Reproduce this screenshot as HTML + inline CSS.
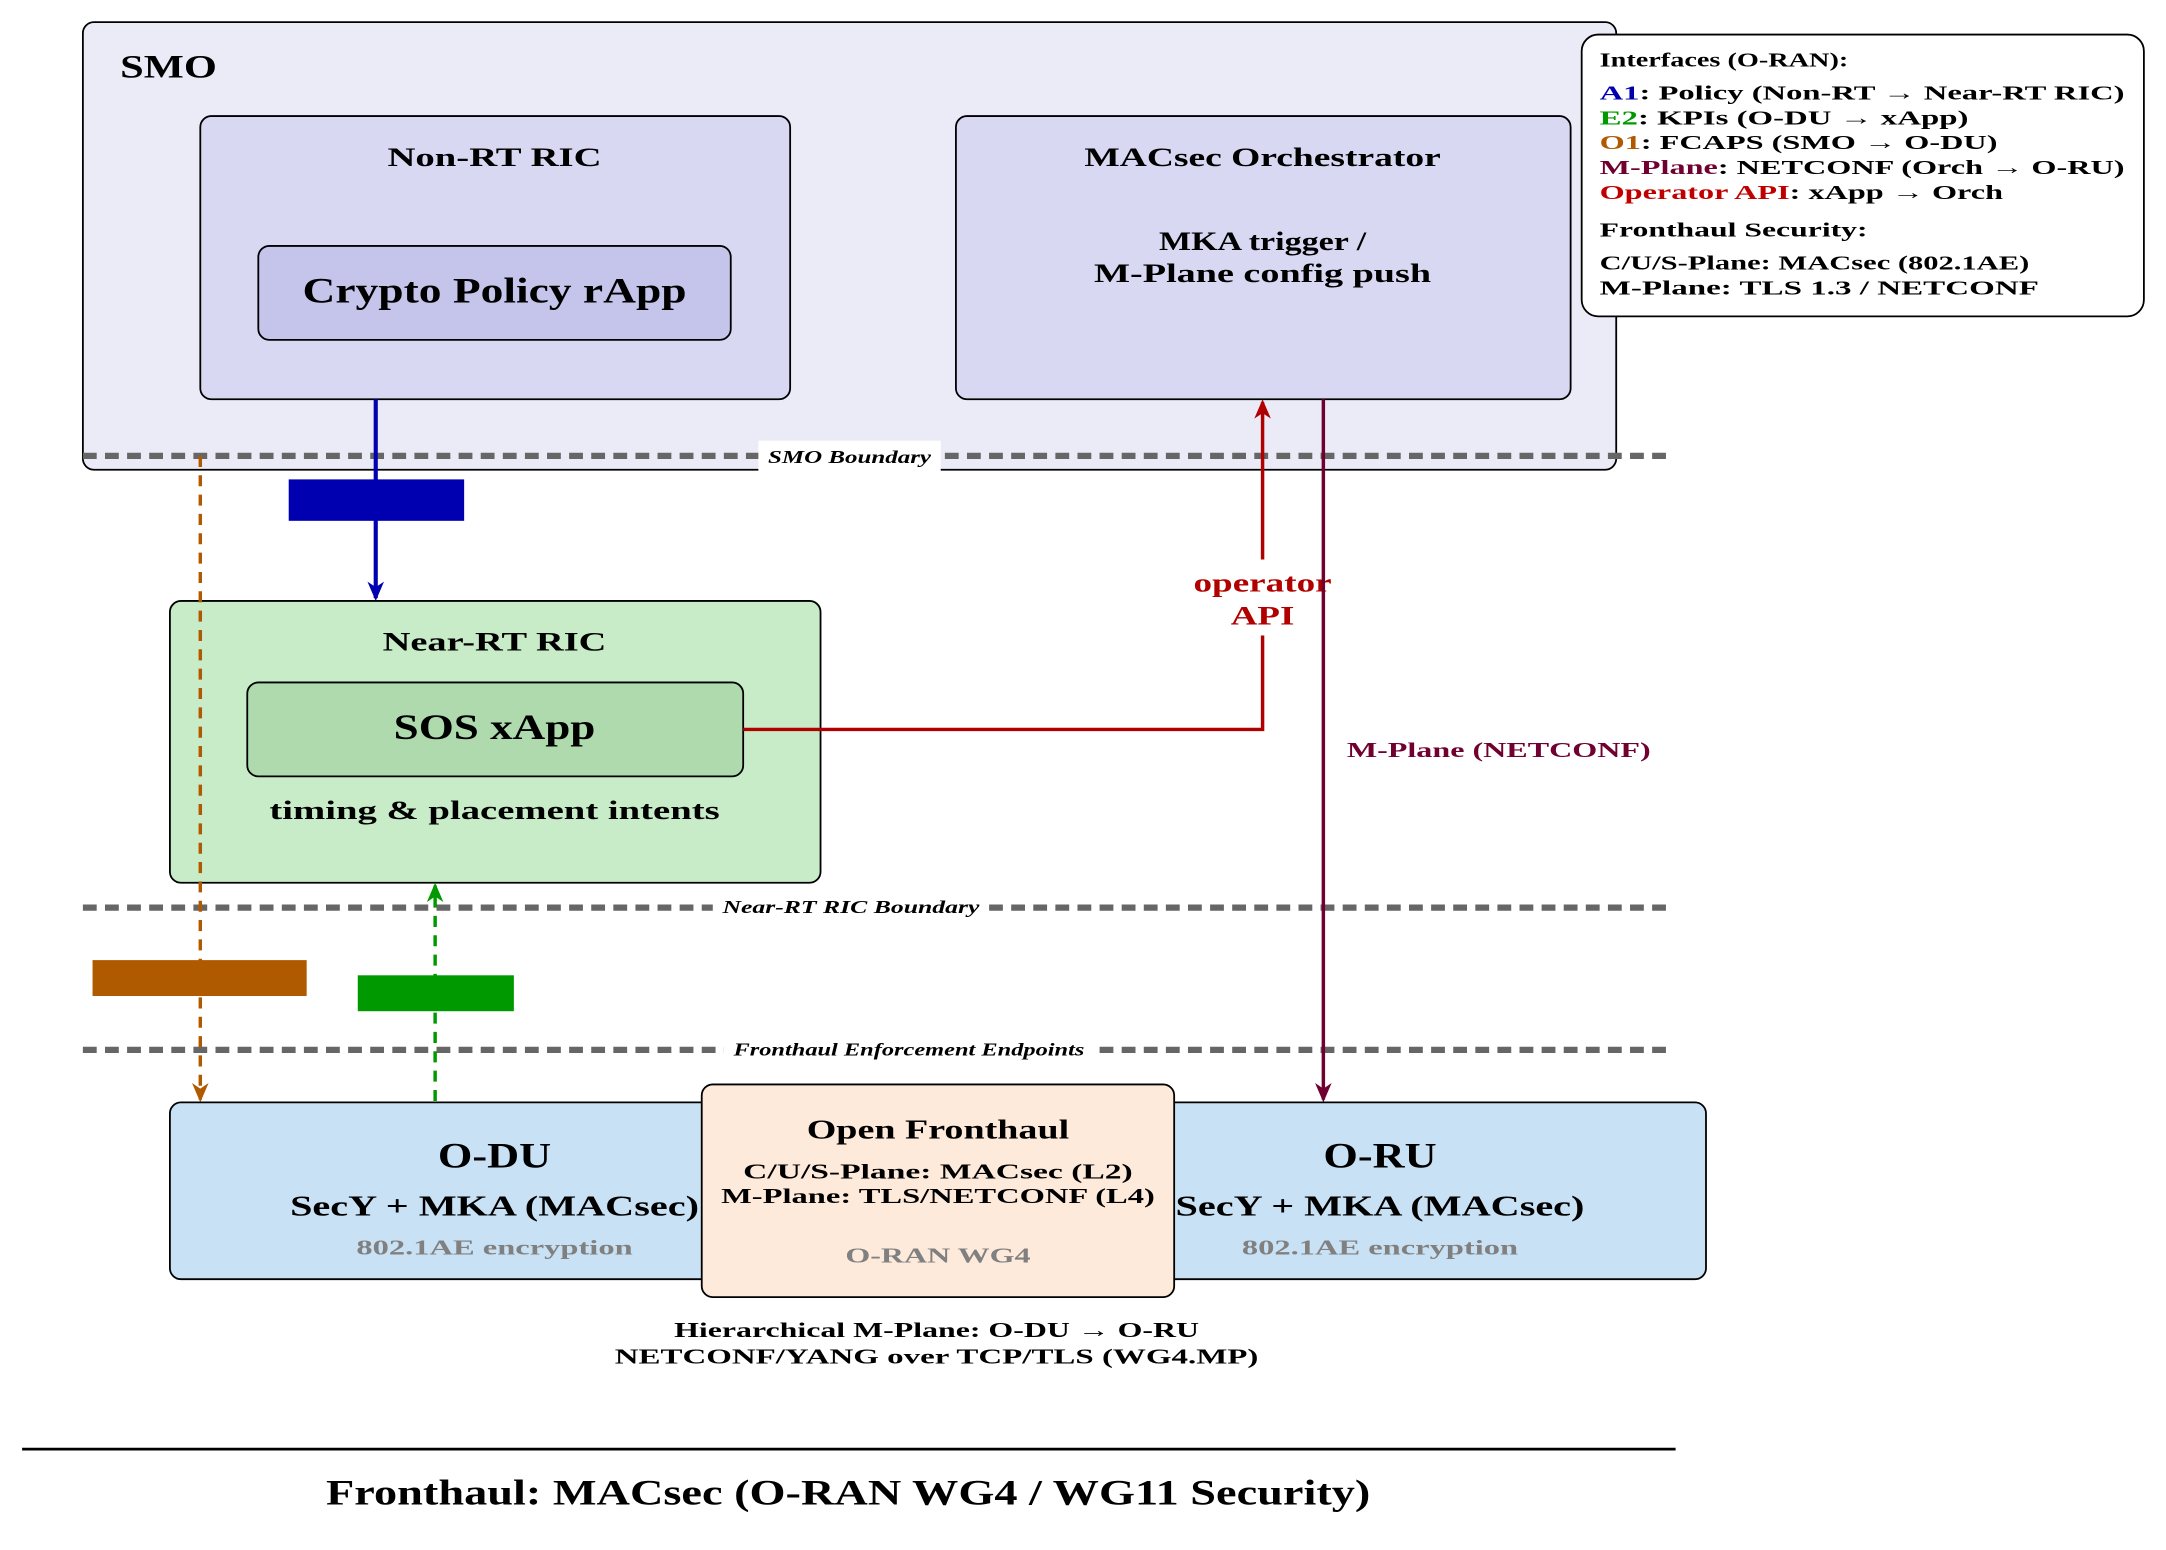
<!DOCTYPE html>
<html><head><meta charset="utf-8"><style>
html,body{margin:0;padding:0;background:#fff;}
svg{display:block;}
text{font-family:"Liberation Serif",serif;font-weight:bold;}
</style></head><body>
<svg width="2166" height="1550" viewBox="0 0 1568 1122" xmlns="http://www.w3.org/2000/svg">
<defs>
<marker id="ab" markerWidth="14" markerHeight="14" refX="12" refY="7" orient="auto" markerUnits="userSpaceOnUse" viewBox="0 0 14 14"><path d="M0,1 L14,7 L0,13 L4,7 Z" fill="#0000b0"/></marker>
<marker id="ar" markerWidth="14" markerHeight="14" refX="12" refY="7" orient="auto" markerUnits="userSpaceOnUse" viewBox="0 0 14 14"><path d="M0,1 L14,7 L0,13 L4,7 Z" fill="#b00000"/></marker>
<marker id="ap" markerWidth="14" markerHeight="14" refX="12" refY="7" orient="auto" markerUnits="userSpaceOnUse" viewBox="0 0 14 14"><path d="M0,1 L14,7 L0,13 L4,7 Z" fill="#700030"/></marker>
<marker id="ao" markerWidth="14" markerHeight="14" refX="12" refY="7" orient="auto" markerUnits="userSpaceOnUse" viewBox="0 0 14 14"><path d="M0,1 L14,7 L0,13 L4,7 Z" fill="#b05a00"/></marker>
<marker id="ag" markerWidth="14" markerHeight="14" refX="12" refY="7" orient="auto" markerUnits="userSpaceOnUse" viewBox="0 0 14 14"><path d="M0,1 L14,7 L0,13 L4,7 Z" fill="#009900"/></marker>
</defs>

<rect x="60" y="16" width="1110" height="324" rx="8" fill="#ebebf8" stroke="#000" stroke-width="1.3"/>
<text x="87" y="56" font-size="24" textLength="70" lengthAdjust="spacingAndGlyphs">SMO</text>

<rect x="145" y="84" width="427" height="205" rx="8" fill="#d8d8f2" stroke="#000" stroke-width="1.3"/>
<text x="358" y="120" font-size="19" text-anchor="middle" textLength="155" lengthAdjust="spacingAndGlyphs">Non-RT RIC</text>
<rect x="187" y="178" width="342" height="68" rx="8" fill="#c5c5ec" stroke="#000" stroke-width="1.3"/>
<text x="358" y="219" font-size="26" text-anchor="middle" textLength="278" lengthAdjust="spacingAndGlyphs">Crypto Policy rApp</text>

<rect x="692" y="84" width="445" height="205" rx="8" fill="#d8d8f2" stroke="#000" stroke-width="1.3"/>
<text x="914" y="120" font-size="19" text-anchor="middle" textLength="258" lengthAdjust="spacingAndGlyphs">MACsec Orchestrator</text>
<text x="914" y="181" font-size="19" text-anchor="middle" textLength="150" lengthAdjust="spacingAndGlyphs">MKA trigger /</text>
<text x="914" y="204" font-size="19" text-anchor="middle" textLength="244" lengthAdjust="spacingAndGlyphs">M-Plane config push</text>

<rect x="1145" y="25" width="407" height="204" rx="12" fill="#fff" stroke="#000" stroke-width="1.3"/>
<g font-size="14.5">
<text x="1158" y="48" textLength="180" lengthAdjust="spacingAndGlyphs">Interfaces (O-RAN):</text>
<text x="1158" y="72" textLength="380" lengthAdjust="spacingAndGlyphs"><tspan fill="#0000b0">A1</tspan>: Policy (Non-RT → Near-RT RIC)</text>
<text x="1158" y="90" textLength="267" lengthAdjust="spacingAndGlyphs"><tspan fill="#009900">E2</tspan>: KPIs (O-DU → xApp)</text>
<text x="1158" y="108" textLength="288" lengthAdjust="spacingAndGlyphs"><tspan fill="#b05a00">O1</tspan>: FCAPS (SMO → O-DU)</text>
<text x="1158" y="126" textLength="380" lengthAdjust="spacingAndGlyphs"><tspan fill="#700030">M-Plane</tspan>: NETCONF (Orch → O-RU)</text>
<text x="1158" y="144" textLength="292" lengthAdjust="spacingAndGlyphs"><tspan fill="#c00000">Operator API</tspan>: xApp → Orch</text>
<text x="1158" y="171" textLength="194" lengthAdjust="spacingAndGlyphs">Fronthaul Security:</text>
<text x="1158" y="195" textLength="311" lengthAdjust="spacingAndGlyphs">C/U/S-Plane: MACsec (802.1AE)</text>
<text x="1158" y="213" textLength="318" lengthAdjust="spacingAndGlyphs">M-Plane: TLS 1.3 / NETCONF</text>
</g>

<g stroke="#666" stroke-width="4.5" stroke-dasharray="10,6">
<line x1="60" y1="330" x2="1210" y2="330"/>
<line x1="60" y1="657" x2="1210" y2="657"/>
<line x1="60" y1="760" x2="1210" y2="760"/>
</g>
<rect x="549" y="319" width="132" height="22" fill="#fff"/>
<text x="615" y="335" font-size="13" font-style="italic" text-anchor="middle" textLength="118" lengthAdjust="spacingAndGlyphs">SMO Boundary</text>
<rect x="516" y="646" width="200" height="22" fill="#fff"/>
<text x="616" y="661" font-size="13" font-style="italic" text-anchor="middle" textLength="186" lengthAdjust="spacingAndGlyphs">Near-RT RIC Boundary</text>
<rect x="524" y="749" width="268" height="22" fill="#fff"/>
<text x="658" y="764" font-size="13" font-style="italic" text-anchor="middle" textLength="254" lengthAdjust="spacingAndGlyphs">Fronthaul Enforcement Endpoints</text>

<rect x="123" y="435" width="471" height="204" rx="8" fill="#c8ebc8" stroke="#000" stroke-width="1.3"/>
<text x="358" y="471" font-size="19" text-anchor="middle" textLength="162" lengthAdjust="spacingAndGlyphs">Near-RT RIC</text>
<rect x="179" y="494" width="359" height="68" rx="8" fill="#aedaae" stroke="#000" stroke-width="1.3"/>
<text x="358" y="535" font-size="26" text-anchor="middle" textLength="146" lengthAdjust="spacingAndGlyphs">SOS xApp</text>
<text x="358" y="593" font-size="19" text-anchor="middle" textLength="326" lengthAdjust="spacingAndGlyphs">timing &amp; placement intents</text>

<line x1="272" y1="289" x2="272" y2="433" stroke="#0000b0" stroke-width="3" marker-end="url(#ab)"/>
<rect x="209" y="347" width="127" height="30" fill="#0000b0"/>

<polyline points="538,528 914,528 914,291" fill="none" stroke="#b00000" stroke-width="2.5" marker-end="url(#ar)"/>
<rect x="868" y="405" width="92" height="55" fill="#fff"/>
<text x="914" y="428" font-size="19" fill="#b00000" text-anchor="middle" textLength="100" lengthAdjust="spacingAndGlyphs">operator</text>
<text x="914" y="452" font-size="19" fill="#b00000" text-anchor="middle" textLength="46" lengthAdjust="spacingAndGlyphs">API</text>

<line x1="958" y1="289" x2="958" y2="796" stroke="#700030" stroke-width="2.5" marker-end="url(#ap)"/>
<text x="975" y="548" font-size="15" fill="#700030" textLength="220" lengthAdjust="spacingAndGlyphs">M-Plane (NETCONF)</text>

<line x1="145" y1="330" x2="145" y2="796" stroke="#b05a00" stroke-width="2.5" stroke-dasharray="8,6" marker-end="url(#ao)"/>
<rect x="67" y="695" width="155" height="26" fill="#b05a00"/>

<line x1="315" y1="797" x2="315" y2="641" stroke="#009900" stroke-width="2.5" stroke-dasharray="8,6" marker-end="url(#ag)"/>
<rect x="259" y="706" width="113" height="26" fill="#009900"/>

<rect x="123" y="798" width="407" height="128" rx="8" fill="#c9e1f4" stroke="#000" stroke-width="1.3"/>
<text x="358" y="845" font-size="26" text-anchor="middle" textLength="82" lengthAdjust="spacingAndGlyphs">O-DU</text>
<text x="358" y="880" font-size="21" text-anchor="middle" textLength="296" lengthAdjust="spacingAndGlyphs">SecY + MKA (MACsec)</text>
<text x="358" y="908" font-size="15" fill="#808080" text-anchor="middle" textLength="200" lengthAdjust="spacingAndGlyphs">802.1AE encryption</text>

<rect x="830" y="798" width="405" height="128" rx="8" fill="#c9e1f4" stroke="#000" stroke-width="1.3"/>
<text x="999" y="845" font-size="26" text-anchor="middle" textLength="82" lengthAdjust="spacingAndGlyphs">O-RU</text>
<text x="999" y="880" font-size="21" text-anchor="middle" textLength="296" lengthAdjust="spacingAndGlyphs">SecY + MKA (MACsec)</text>
<text x="999" y="908" font-size="15" fill="#808080" text-anchor="middle" textLength="200" lengthAdjust="spacingAndGlyphs">802.1AE encryption</text>

<rect x="508" y="785" width="342" height="154" rx="8" fill="#fdeadb" stroke="#000" stroke-width="1.3"/>
<text x="679" y="824" font-size="20" text-anchor="middle" textLength="190" lengthAdjust="spacingAndGlyphs">Open Fronthaul</text>
<text x="679" y="853" font-size="15.5" text-anchor="middle" textLength="282" lengthAdjust="spacingAndGlyphs">C/U/S-Plane: MACsec (L2)</text>
<text x="679" y="871" font-size="15.5" text-anchor="middle" textLength="314" lengthAdjust="spacingAndGlyphs">M-Plane: TLS/NETCONF (L4)</text>
<text x="679" y="914" font-size="15.5" fill="#808080" text-anchor="middle" textLength="134" lengthAdjust="spacingAndGlyphs">O-RAN WG4</text>

<text x="678" y="968" font-size="15.5" text-anchor="middle" textLength="380" lengthAdjust="spacingAndGlyphs">Hierarchical M-Plane: O-DU → O-RU</text>
<text x="678" y="987" font-size="15.5" text-anchor="middle" textLength="466" lengthAdjust="spacingAndGlyphs">NETCONF/YANG over TCP/TLS (WG4.MP)</text>

<line x1="16" y1="1049" x2="1213" y2="1049" stroke="#000" stroke-width="2"/>
<text x="614" y="1089" font-size="26" text-anchor="middle" textLength="756" lengthAdjust="spacingAndGlyphs">Fronthaul: MACsec (O-RAN WG4 / WG11 Security)</text>
</svg>
</body></html>
